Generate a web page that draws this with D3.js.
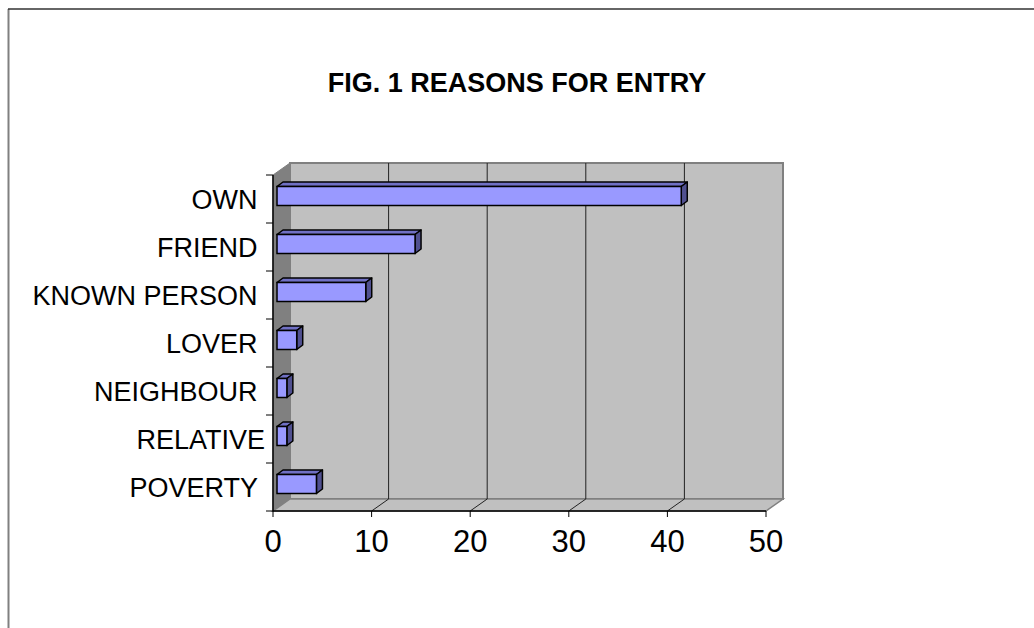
<!DOCTYPE html>
<html>
<head>
<meta charset="utf-8">
<script src="https://cdn.jsdelivr.net/npm/d3@7"></script>
<style>
  html, body { margin: 0; padding: 0; background: #fff; }
  svg { display: block; font-family: Arial, "Liberation Sans", sans-serif; }
</style>
</head>
<body>
<svg id="chart" width="1034" height="628"></svg>
<script>
// ---- data ----
const title = "FIG. 1 REASONS FOR ENTRY";
const categories = ["OWN ", "FRIEND ", "KNOWN PERSON ", "LOVER ", "NEIGHBOUR ", "RELATIVE", "POVERTY "];
const values = [41, 14, 9, 2, 1, 1, 4];
const xTicks = [0, 10, 20, 30, 40, 50];

// ---- layout ----
const svg = d3.select("#chart");
const x = d3.scaleLinear().domain([0, 50]).range([273, 766]);
const y = d3.scaleBand().domain(categories).range([175, 511]).paddingInner(0).paddingOuter(0);
const depth = { dx: 17, dy: -12 };      // wall depth offset
const barZ = { dx: 4, dy: -3 };          // bar front plane offset
const barD = { dx: 6, dy: -4.5 };        // bar depth
const barH = 19;

// outer border
svg.append("line").attr("x1", 8.5).attr("y1", 9).attr("x2", 8.5).attr("y2", 628)
  .attr("stroke", "#808080").attr("stroke-width", 2);
svg.append("line").attr("x1", 8).attr("y1", 9).attr("x2", 1034).attr("y2", 9)
  .attr("stroke", "#333").attr("stroke-width", 1.5);

// title
svg.append("text").attr("x", 517).attr("y", 92).attr("text-anchor", "middle")
  .attr("font-size", 27).attr("font-weight", "bold").attr("fill", "#000").text(title);

const x0 = x(0), x1 = x(50), yTop = y.range()[0], yBot = y.range()[1];
const pts = a => a.map(p => p.join(",")).join(" ");

// back wall
svg.append("polygon")
  .attr("points", pts([[x0 + depth.dx, yTop + depth.dy], [x1 + depth.dx, yTop + depth.dy],
                       [x1 + depth.dx, yBot + depth.dy], [x0 + depth.dx, yBot + depth.dy]]))
  .attr("fill", "#c0c0c0").attr("stroke", "#808080").attr("stroke-width", 2);
// left wall
svg.append("polygon")
  .attr("points", pts([[x0, yTop], [x0 + depth.dx, yTop + depth.dy],
                       [x0 + depth.dx, yBot + depth.dy], [x0, yBot]]))
  .attr("fill", "#808080").attr("stroke", "#808080").attr("stroke-width", 1);
// floor
svg.append("polygon")
  .attr("points", pts([[x0, yBot], [x0 + depth.dx, yBot + depth.dy],
                       [x1 + depth.dx, yBot + depth.dy], [x1, yBot]]))
  .attr("fill", "#c0c0c0").attr("stroke", "#808080").attr("stroke-width", 1.5);

// gridlines on back wall + floor
const grid = xTicks.filter(t => t > 0 && t < 50);
svg.selectAll(".grid").data(grid).enter().append("polyline")
  .attr("points", d => pts([[x(d) + depth.dx, yTop + depth.dy], [x(d) + depth.dx, yBot + depth.dy], [x(d), yBot]]))
  .attr("fill", "none").attr("stroke", "#222").attr("stroke-width", 1);

// axes (front)
svg.append("line").attr("x1", x0).attr("y1", yTop).attr("x2", x0).attr("y2", yBot + 0.5)
  .attr("stroke", "#000").attr("stroke-width", 1.5);
svg.append("line").attr("x1", x0).attr("y1", yBot).attr("x2", x1).attr("y2", yBot)
  .attr("stroke", "#000").attr("stroke-width", 1.5);
// left ticks at band boundaries
const bounds = categories.map(c => y(c)).concat([yBot]);
svg.selectAll(".ytick").data(bounds).enter().append("line")
  .attr("x1", x0 - 7).attr("x2", x0).attr("y1", d => d).attr("y2", d => d)
  .attr("stroke", "#000").attr("stroke-width", 1);
// bottom ticks
svg.selectAll(".xtick").data(xTicks).enter().append("line")
  .attr("x1", d => x(d)).attr("x2", d => x(d)).attr("y1", yBot).attr("y2", yBot + 6)
  .attr("stroke", "#000").attr("stroke-width", 1);
svg.selectAll(".xlab").data(xTicks).enter().append("text")
  .attr("x", d => x(d)).attr("y", 552).attr("text-anchor", "middle")
  .attr("font-size", 31).attr("fill", "#000").text(d => d);

// category labels
svg.selectAll(".ylab").data(categories).enter().append("text")
  .attr("x", 265).attr("y", d => y(d) + y.bandwidth() / 2 + 9.5)
  .attr("text-anchor", "end").attr("font-size", 27).attr("fill", "#000")
  .style("white-space", "pre").text(d => d);

// bars
const bars = svg.selectAll(".bar").data(categories.map((c, i) => ({ c, v: values[i] })))
  .enter().append("g");
bars.each(function (d) {
  const g = d3.select(this);
  const xa = x(0) + barZ.dx, xb = x(d.v) + barZ.dx;
  const yt = y(d.c) + y.bandwidth() / 2 + barZ.dy - barH / 2, yb = yt + barH;
  // top face
  g.append("polygon")
    .attr("points", pts([[xa, yt], [xa + barD.dx, yt + barD.dy], [xb + barD.dx, yt + barD.dy], [xb, yt]]))
    .attr("fill", "#7070c4").attr("stroke", "#000").attr("stroke-width", 1.5).attr("stroke-linejoin", "round");
  // side face
  g.append("polygon")
    .attr("points", pts([[xb, yt], [xb + barD.dx, yt + barD.dy], [xb + barD.dx, yb + barD.dy], [xb, yb]]))
    .attr("fill", "#505090").attr("stroke", "#000").attr("stroke-width", 1.5).attr("stroke-linejoin", "round");
  // front face
  g.append("rect").attr("x", xa).attr("y", yt).attr("width", xb - xa).attr("height", barH)
    .attr("fill", "#9999ff").attr("stroke", "#000").attr("stroke-width", 1.5);
});
</script>
</body>
</html>
